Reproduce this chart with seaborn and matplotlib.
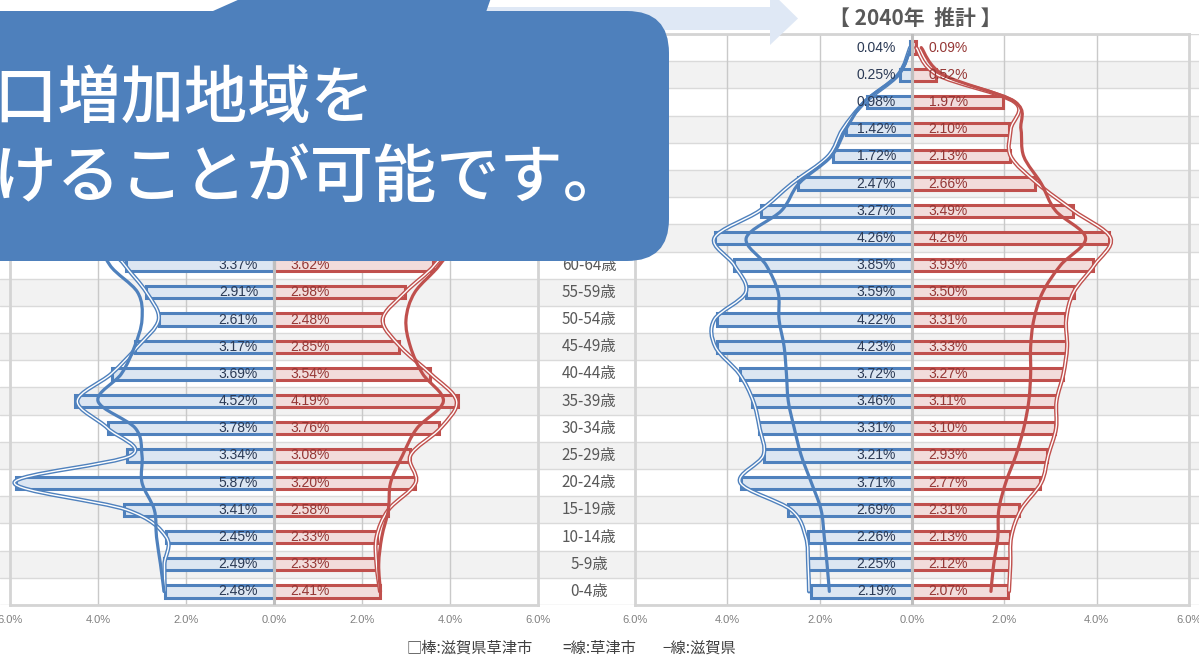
import numpy as np
import pandas as pd
import seaborn as sns
import matplotlib
matplotlib.use("Agg")
import matplotlib.pyplot as plt
from matplotlib.path import Path
from matplotlib.patches import PathPatch, Polygon, FancyBboxPatch
import matplotlib.transforms as mtransforms

# 年齢区分（下から上）
ages = ['0-4歳', '5-9歳', '10-14歳', '15-19歳', '20-24歳', '25-29歳', '30-34歳',
        '35-39歳', '40-44歳', '45-49歳', '50-54歳', '55-59歳', '60-64歳', '65-69歳',
        '70-74歳', '75-79歳', '80-84歳', '85-89歳', '90-94歳', '95-99歳', '100歳以上']

# 左：現状（上部は吹き出しで隠れているので推定）
zone_m_L = [2.48, 2.49, 2.45, 3.41, 5.87, 3.34, 3.78, 4.52, 3.69, 3.17, 2.61, 2.91, 3.37,
            3.90, 2.90, 2.20, 1.50, 0.80, 0.30, 0.06, 0.01]
zone_f_L = [2.41, 2.33, 2.33, 2.58, 3.20, 3.08, 3.76, 4.19, 3.54, 2.85, 2.48, 2.98, 3.62,
            4.10, 3.30, 2.70, 2.10, 1.50, 0.80, 0.25, 0.04]
city_m_L = [2.48, 2.49, 2.45, 3.35, 5.90, 3.25, 3.78, 4.47, 3.70, 3.10, 2.62, 2.90, 3.39,
            3.80, 2.90, 2.20, 1.50, 0.80, 0.30, 0.06, 0.01]
city_f_L = [2.41, 2.33, 2.33, 2.60, 3.22, 3.10, 3.78, 4.15, 3.56, 2.87, 2.47, 2.98, 3.65,
            4.00, 3.20, 2.60, 2.00, 1.40, 0.80, 0.25, 0.04]
pref_m_L = [2.50, 2.58, 2.67, 2.72, 3.00, 3.00, 3.15, 4.00, 3.47, 3.17, 3.00, 3.10, 3.73,
            3.90, 3.10, 2.50, 1.80, 1.10, 0.40, 0.08, 0.01]
pref_f_L = [2.42, 2.38, 2.45, 2.60, 2.65, 2.92, 3.25, 3.85, 3.38, 3.10, 3.00, 3.20, 3.76,
            4.10, 3.50, 3.00, 2.40, 1.80, 1.00, 0.30, 0.05]
shown_L = 13   # 吹き出しに隠れていない行数（下から）

# 右：2040年 推計
zone_m_R = [2.19, 2.25, 2.26, 2.69, 3.71, 3.21, 3.31, 3.46, 3.72, 4.23, 4.22, 3.59, 3.85,
            4.26, 3.27, 2.47, 1.72, 1.42, 0.98, 0.25, 0.04]
zone_f_R = [2.07, 2.12, 2.13, 2.31, 2.77, 2.93, 3.10, 3.11, 3.27, 3.33, 3.31, 3.50, 3.93,
            4.26, 3.49, 2.66, 2.13, 2.10, 1.97, 0.52, 0.09]
city_m_R = [2.23, 2.25, 2.30, 2.62, 3.72, 3.22, 3.30, 3.44, 3.74, 4.26, 4.28, 3.60, 3.85,
            4.28, 3.30, 2.60, 1.82, 1.50, 1.02, 0.30, 0.04]
city_f_R = [2.10, 2.13, 2.15, 2.36, 2.80, 2.95, 3.12, 3.13, 3.28, 3.36, 3.34, 3.50, 3.95,
            4.30, 3.50, 2.72, 2.14, 2.14, 2.22, 0.55, 0.09]
pref_m_R = [1.79, 1.84, 1.90, 1.97, 2.18, 2.40, 2.55, 2.68, 2.72, 2.77, 2.88, 2.90, 3.16,
            3.59, 2.83, 2.45, 1.75, 1.43, 1.04, 0.30, 0.02]
pref_f_R = [1.71, 1.77, 1.86, 1.88, 2.03, 2.25, 2.42, 2.53, 2.57, 2.57, 2.64, 2.83, 3.22,
            3.76, 3.11, 2.80, 2.42, 2.36, 2.23, 0.68, 0.20]

xticks = [-6, -4, -2, 0, 2, 4, 6]
xticklabels = ['6.0%', '4.0%', '2.0%', '0.0%', '2.0%', '4.0%', '6.0%']
title_R = '【 2040年  推計 】'
legend_items = ['□棒:滋賀県草津市', '=線:草津市', '−線:滋賀県']
callout_lines = ['人口増加地域を', '見つけることが可能です。']

sns.set_style('white')
plt.rcParams['font.family'] = ['Noto Sans CJK JP', 'DejaVu Sans']
NUMFONT = ['Liberation Sans Narrow', 'Liberation Sans', 'DejaVu Sans']

BLUE, RED = '#4f81bd', '#c0504d'
BLUE_F, RED_F = '#dce6f2', '#f2dcdb'
W, H = 1199, 661
n = len(ages)
order = ages[::-1]
ypos = np.array([n - 1 - i for i in range(n)])   # 下からの順 → 棒グラフの位置


def fx(px):
    return px / W


def fy(py):
    return 1 - py / H


fig = plt.figure(figsize=(W / 100, H / 100), dpi=100)
top_px, bot_px = 34, 605
ax_h = (bot_px - top_px) / H

# 背景の縞
bg = fig.add_axes([0, fy(bot_px), 1, ax_h], zorder=0)
bg.set_xlim(0, 1)
bg.set_ylim(n - 0.5, -0.5)
for k in range(n):
    if k % 2 == 1:
        bg.axhspan(k - 0.5, k + 0.5, color='#f2f2f2', lw=0)
for k in range(n + 1):
    bg.axhline(k - 0.5, color='#dadada', lw=1)
bg.axis('off')


def smooth(xs, ys):
    pts = np.column_stack([xs, ys])
    P = np.vstack([pts[0], pts, pts[-1]])
    verts, codes = [pts[0]], [Path.MOVETO]
    for i in range(1, len(P) - 2):
        p0, p1, p2, p3 = P[i - 1], P[i], P[i + 1], P[i + 2]
        verts += [p1 + (p2 - p0) / 6, p2 - (p3 - p1) / 6, p2]
        codes += [Path.CURVE4] * 3
    return Path(verts, codes)


def pyramid(ax, zm, zf, cm, cf, pm, pf, shown):
    df = pd.DataFrame({'age': ages, 'm': -np.array(zm), 'f': np.array(zf)})
    sns.barplot(data=df, x='m', y='age', order=order, orient='h', ax=ax, width=0.45,
                color=BLUE_F, saturation=1, edgecolor=BLUE, linewidth=2.2, zorder=2)
    sns.barplot(data=df, x='f', y='age', order=order, orient='h', ax=ax, width=0.45,
                color=RED_F, saturation=1, edgecolor=RED, linewidth=2.2, zorder=2)
    # 草津市（二重線）
    for vals, c in [(-np.array(cm), BLUE), (np.array(cf), RED)]:
        p = smooth(vals, ypos)
        ax.add_patch(PathPatch(p, fill=False, ec=c, lw=3.0, zorder=3, capstyle='round'))
        ax.add_patch(PathPatch(p, fill=False, ec='white', lw=1.0, zorder=3.1))
    # 滋賀県（太線）
    for vals, c in [(-np.array(pm), BLUE), (np.array(pf), RED)]:
        ax.add_patch(PathPatch(smooth(vals, ypos), fill=False, ec=c, lw=2.3, zorder=4,
                               capstyle='round'))
    ax.axvline(0, color='#bfbfbf', lw=2.2, zorder=5)
    for i in range(shown):
        ax.annotate(f'{zm[i]:.2f}%', (0, ypos[i]), xytext=(-11.5, 0), textcoords='offset points',
                    ha='right', va='center', fontsize=10, color='#2b3a55', family=NUMFONT, zorder=6)
        ax.annotate(f'{zf[i]:.2f}%', (0, ypos[i]), xytext=(12, 0), textcoords='offset points',
                    ha='left', va='center', fontsize=10, color='#953735', family=NUMFONT, zorder=6)
    ax.set_xlim(-6, 6)
    ax.set_ylim(n - 0.5, -0.5)
    ax.set_xticks(xticks)
    ax.set_xticklabels(xticklabels, family=NUMFONT, fontsize=8, color='#808080')
    ax.tick_params(axis='x', length=0, pad=7)
    ax.set_yticks([])
    ax.set_xlabel('')
    ax.set_ylabel('')
    for g in [-4, -2, 2, 4]:
        ax.axvline(g, color='#c9c9c9', lw=1, zorder=1)
    for s in ax.spines.values():
        s.set_color('#d4d4d4')
        s.set_linewidth(2)
    ax.patch.set_alpha(0)


axL = fig.add_axes([fx(10), fy(bot_px), fx(538 - 10), ax_h], zorder=1)
axR = fig.add_axes([fx(635), fy(bot_px), fx(1189 - 635), ax_h], zorder=1)
pyramid(axL, zone_m_L, zone_f_L, city_m_L, city_f_L, pref_m_L, pref_f_L, shown_L)
pyramid(axR, zone_m_R, zone_f_R, city_m_R, city_f_R, pref_m_R, pref_f_R, n)

# 年齢ラベル（吹き出しの下に隠れる行は省略）
tr = mtransforms.blended_transform_factory(fig.transFigure, axL.transData)
for i in range(shown_L):
    axL.text(fx(589), ypos[i], ages[i], transform=tr, ha='center', va='center',
             fontsize=11, color='#595959', clip_on=False)

fig.text(fx(915), fy(18), title_R, ha='center', va='center', fontsize=15,
         fontweight='bold', color='#595959')

for txt, x0 in zip(legend_items, [407, 562, 662]):
    fig.text(fx(x0), fy(648), txt, ha='left', va='center', fontsize=11, color='#404040')

# 矢印と吹き出し
ov = fig.add_axes([0, 0, 1, 1], zorder=10)
ov.set_xlim(0, W)
ov.set_ylim(H, 0)
ov.axis('off')
ov.add_patch(Polygon([(300, 7), (770, 7), (770, -9), (798, 18.5), (770, 45), (770, 30), (300, 30)],
                     closed=True, fc='#dfe8f5', ec='none', zorder=1))
CALL = '#4e80bc'
ov.add_patch(FancyBboxPatch((-80, 11), 749, 250, boxstyle='round,pad=0,rounding_size=42',
                            fc=CALL, ec='none', zorder=2))
ov.add_patch(Polygon([(204, 15), (249, -5), (492, -5), (485, 15)], closed=True,
                     fc=CALL, ec='none', zorder=2))
ov.text(374, 99, callout_lines[0], ha='right', va='center', fontsize=45.5,
        fontweight='medium', color='white', zorder=3)
ov.text(627, 179, callout_lines[1], ha='right', va='center', fontsize=45.5,
        fontweight='medium', color='white', zorder=3)

fig.savefig('out.png', dpi=100)
